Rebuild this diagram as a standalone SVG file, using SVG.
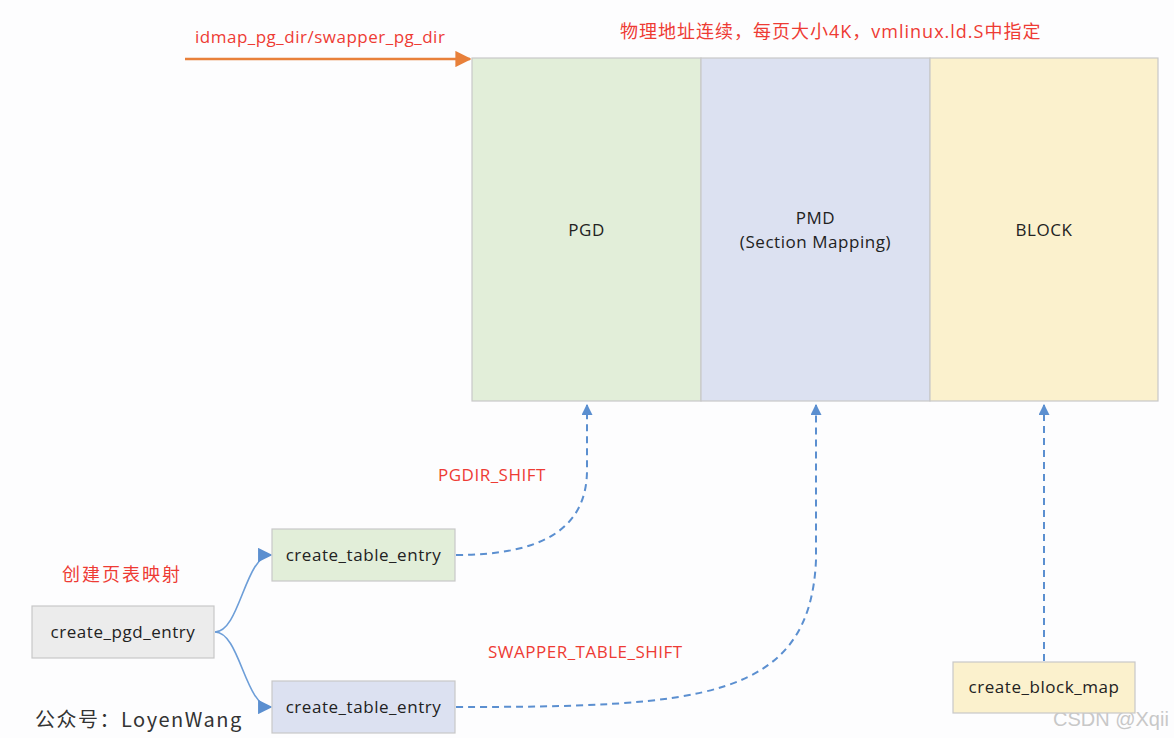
<svg xmlns="http://www.w3.org/2000/svg" width="1174" height="738" viewBox="0 0 1174 738">
<defs>
<style>
.t{font-family:"Open Sans","Liberation Sans","Noto Sans CJK SC",sans-serif;font-size:17px;letter-spacing:0.55px;fill:#222;text-anchor:middle}
.r{font-family:"Open Sans","Liberation Sans","Noto Sans CJK SC",sans-serif;font-size:17px;letter-spacing:0.5px;fill:#ee3b34}
.box{stroke:#c8c8c8;stroke-width:1.2}
.dash{fill:none;stroke:#5b8fd0;stroke-width:2;stroke-dasharray:7,5}
.sol{fill:none;stroke:#6d9ed8;stroke-width:1.6}
</style>
<marker id="ab" viewBox="0 0 10 10" refX="9" refY="5" markerWidth="5.5" markerHeight="5.5" orient="auto-start-reverse" markerUnits="strokeWidth"><path d="M0,0 L10,5 L0,10 Z" fill="#5b8fd0"/></marker>
<marker id="as" viewBox="0 0 10 10" refX="9" refY="5" markerWidth="9" markerHeight="9" orient="auto" markerUnits="strokeWidth"><path d="M0,0 L10,5 L0,10 Z" fill="#5b8fd0"/></marker>
<marker id="ao" viewBox="0 0 10 10" refX="9" refY="5" markerWidth="6.5" markerHeight="6.5" orient="auto" markerUnits="strokeWidth"><path d="M0,0 L10,5 L0,10 Z" fill="#e8803a"/></marker>
</defs>
<rect width="1174" height="738" fill="#fdfdfe"/>
<text class="r" x="195" y="43">idmap_pg_dir/swapper_pg_dir</text>
<text class="r" x="620" y="38" style="font-size:18px;letter-spacing:1px">物理地址连续，每页大小4K，vmlinux.ld.S中指定</text>
<text class="r" x="438" y="481">PGDIR_SHIFT</text>
<text class="r" x="488" y="658">SWAPPER_TABLE_SHIFT</text>
<text class="r" x="62" y="581" style="font-size:18px;letter-spacing:2px">创建页表映射</text>
<text x="35" y="727" style="font-family:'Noto Sans CJK SC','Open Sans',sans-serif;font-size:20px;letter-spacing:1.5px;fill:#333">公众号：LoyenWang</text>
<text x="1053" y="726" style="font-family:'Liberation Sans',sans-serif;font-size:20px;fill:#c8c8c8">CSDN @Xqii</text>
<g id="connectors">
<line x1="185" y1="59" x2="470" y2="59" stroke="#e8803a" stroke-width="2.5" marker-end="url(#ao)"/>
<path class="dash" d="M456,555 C540,555 587,530 587,470 L587,405" marker-end="url(#ab)"/>
<path class="dash" d="M456,707 C700,707 810,700 816,560 L816,405" marker-end="url(#ab)"/>
<path class="dash" d="M1044,661 L1044,405" marker-end="url(#ab)"/>
<path class="sol" d="M215,632 C240,632 245,555 271,555" marker-end="url(#as)"/>
<path class="sol" d="M215,632 C240,632 245,707 271,707" marker-end="url(#as)"/>
</g>
<g id="pgd"><rect class="box" x="472" y="58" width="229" height="343" fill="#e2eed9"/><text class="t" x="586.5" y="236">PGD</text></g>
<g id="pmd"><rect class="box" x="701" y="58" width="229" height="343" fill="#dce1f1"/><text class="t" x="815.5" y="224">PMD</text><text class="t" x="815.5" y="248">(Section Mapping)</text></g>
<g id="block"><rect class="box" x="930" y="58" width="228" height="343" fill="#fbf1cd"/><text class="t" x="1044" y="236">BLOCK</text></g>
<g id="create_pgd_entry"><rect class="box" x="32" y="606" width="182" height="52" fill="#ececec"/><text class="t" x="123" y="638">create_pgd_entry</text></g>
<g id="create_table_entry_1"><rect class="box" x="272" y="529" width="183" height="52" fill="#e2eed9"/><text class="t" x="363.5" y="561">create_table_entry</text></g>
<g id="create_table_entry_2"><rect class="box" x="272" y="681" width="183" height="52" fill="#dce1f1"/><text class="t" x="363.5" y="713">create_table_entry</text></g>
<g id="create_block_map"><rect class="box" x="953" y="662" width="182" height="51" fill="#fbf1cd"/><text class="t" x="1044" y="693">create_block_map</text></g>
</svg>
